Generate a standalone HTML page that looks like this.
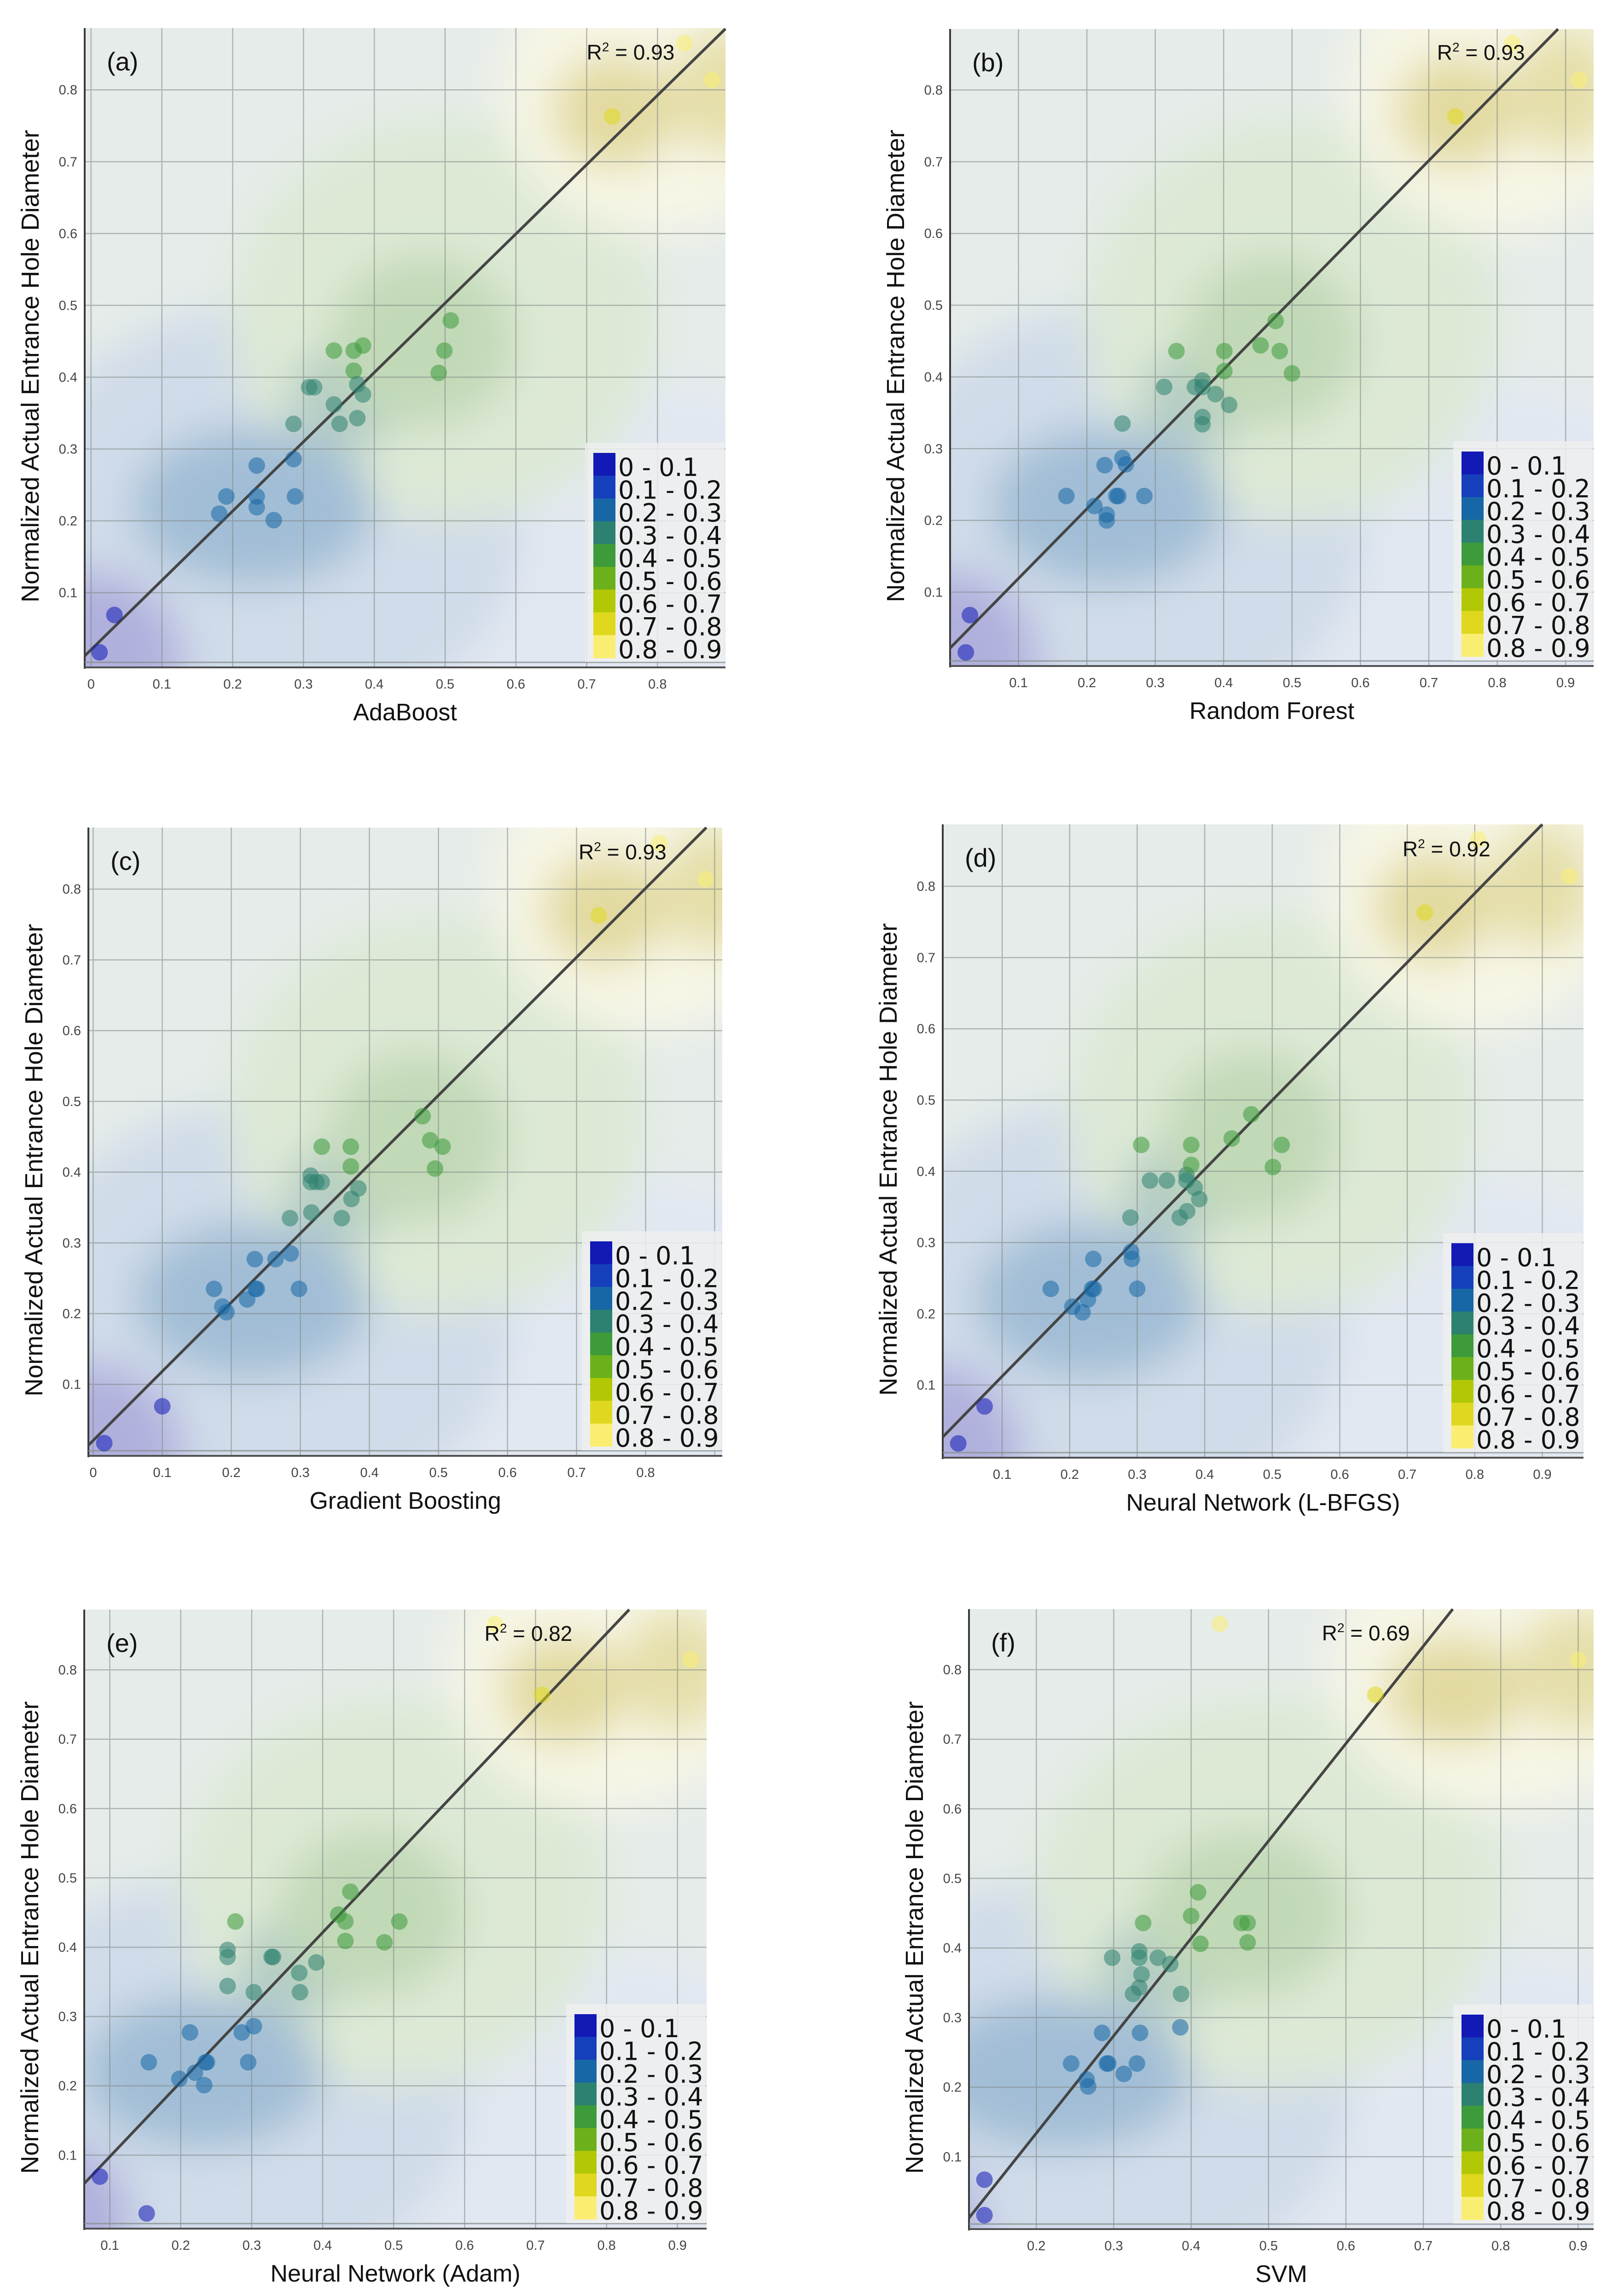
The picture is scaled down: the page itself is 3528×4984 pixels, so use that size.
<!DOCTYPE html>
<html><head><meta charset="utf-8">
<style>
html,body{margin:0;padding:0;background:#fff;}
svg{display:block;font-family:"Liberation Sans",Arial,sans-serif;}
</style></head>
<body>
<svg id="fig" xmlns="http://www.w3.org/2000/svg" width="3528" height="4984" viewBox="0 0 3528 4984">
<defs>
<filter id="blur" x="-50%" y="-50%" width="200%" height="200%"><feGaussianBlur stdDeviation="45"/></filter>
</defs>
</svg>
<script>
// ---------- data ----------
const predA=[0.012,0.033,0.181,0.191,0.234,0.234,0.234,0.258,0.286,0.288,0.286,0.308,0.315,0.343,0.351,0.343,0.371,0.384,0.371,0.376,0.384,0.376,0.491,0.499,0.508,0.736,0.838,0.877];
const actA=[0.017,0.069,0.210,0.234,0.277,0.234,0.219,0.201,0.286,0.234,0.335,0.386,0.386,0.362,0.335,0.437,0.437,0.444,0.409,0.390,0.376,0.343,0.406,0.437,0.479,0.763,0.865,0.814];
const predB=[0.023,0.029,0.170,0.211,0.226,0.229,0.229,0.243,0.246,0.252,0.257,0.252,0.284,0.313,0.331,0.358,0.369,0.369,0.388,0.369,0.369,0.408,0.401,0.401,0.454,0.476,0.482,0.5,0.739,0.822,0.920];
const actB=[0.016,0.068,0.234,0.220,0.277,0.208,0.2,0.234,0.234,0.287,0.278,0.335,0.234,0.386,0.436,0.386,0.395,0.386,0.376,0.344,0.334,0.361,0.436,0.408,0.444,0.478,0.436,0.405,0.763,0.865,0.814];
const predC=[0.016,0.1,0.175,0.187,0.193,0.223,0.234,0.235,0.237,0.264,0.286,0.298,0.285,0.316,0.315,0.315,0.323,0.331,0.331,0.36,0.374,0.384,0.373,0.373,0.477,0.488,0.506,0.495,0.732,0.820,0.887];
const actC=[0.017,0.069,0.235,0.210,0.202,0.220,0.277,0.235,0.235,0.277,0.285,0.235,0.335,0.343,0.395,0.386,0.386,0.386,0.436,0.335,0.362,0.377,0.436,0.408,0.479,0.445,0.436,0.405,0.763,0.865,0.814];
const predD=[0.035,0.074,0.172,0.204,0.219,0.227,0.233,0.236,0.235,0.291,0.292,0.300,0.290,0.306,0.319,0.344,0.373,0.373,0.385,0.392,0.374,0.363,0.380,0.380,0.440,0.469,0.501,0.514,0.726,0.805,0.940];
const actD=[0.018,0.070,0.235,0.210,0.202,0.220,0.235,0.235,0.277,0.287,0.277,0.235,0.335,0.437,0.387,0.387,0.395,0.387,0.377,0.361,0.344,0.335,0.437,0.409,0.446,0.480,0.406,0.437,0.763,0.866,0.814];
const predE=[0.086,0.152,0.155,0.198,0.213,0.220,0.233,0.235,0.237,0.286,0.303,0.295,0.266,0.266,0.266,0.277,0.303,0.328,0.330,0.367,0.368,0.391,0.422,0.432,0.439,0.432,0.487,0.508,0.709,0.643,0.919];
const actE=[0.069,0.016,0.234,0.210,0.277,0.219,0.201,0.234,0.234,0.277,0.286,0.234,0.396,0.386,0.344,0.437,0.335,0.386,0.386,0.363,0.335,0.378,0.447,0.437,0.480,0.409,0.407,0.437,0.764,0.866,0.815];
const predF=[0.133,0.133,0.245,0.265,0.267,0.285,0.291,0.293,0.313,0.330,0.334,0.386,0.298,0.325,0.333,0.336,0.333,0.333,0.338,0.357,0.373,0.387,0.409,0.400,0.412,0.465,0.473,0.473,0.638,0.437,0.900];
const actF=[0.067,0.016,0.234,0.211,0.201,0.278,0.234,0.234,0.219,0.234,0.278,0.286,0.386,0.334,0.343,0.362,0.386,0.395,0.436,0.386,0.377,0.334,0.480,0.446,0.406,0.436,0.436,0.408,0.764,0.866,0.814];
const r2Values=["0.93","0.93","0.93","0.92","0.82","0.69"];
const modelNames=["AdaBoost","Random Forest","Gradient Boosting","Neural Network (L-BFGS)","Neural Network (Adam)","SVM"];
const panelLetters=["(a)","(b)","(c)","(d)","(e)","(f)"];
const xTicksA=[0,0.1,0.2,0.3,0.4,0.5,0.6,0.7,0.8];
const xTicksB=[0.1,0.2,0.3,0.4,0.5,0.6,0.7,0.8,0.9];
const xTicksF=[0.2,0.3,0.4,0.5,0.6,0.7,0.8,0.9];
const yTicks=[0.1,0.2,0.3,0.4,0.5,0.6,0.7,0.8];
const legendLabels=["0 - 0.1","0.1 - 0.2","0.2 - 0.3","0.3 - 0.4","0.4 - 0.5","0.5 - 0.6","0.6 - 0.7","0.7 - 0.8","0.8 - 0.9"];
const legendColors=["#1219b5","#1640bb","#1767a6","#2d8170","#3d9b3a","#6cb11b","#b2c805","#e0d81e","#faee72"];
const fitA=[-0.009,0.012,0.896,0.885];
const fitB=[0.0,0.022,0.889,0.885];
const fitC=[-0.007,0.014,0.888,0.887];
const fitD=[0.012,0.027,0.900,0.887];
const fitE=[0.064,0.059,0.832,0.887];
const fitF=[0.113,0.012,0.738,0.887];

// ---------- layout ----------
const panels=[
 {px:[184,1576,61,1450],dom:[-0.009,0.896,-0.004,0.886],xs:predA,ys:actA,xt:xTicksA,fit:fitA,r2x:0.70},
 {px:[2064,3462,63,1447],dom:[0.0,0.941,-0.003,0.885],xs:predB,ys:actB,xt:xTicksB,fit:fitB,r2x:0.712},
 {px:[192,1569,1798,3163],dom:[-0.007,0.911,-0.001,0.887],xs:predC,ys:actC,xt:xTicksA,fit:fitC,r2x:0.703},
 {px:[2048,3440,1791,3167],dom:[0.012,0.961,-0.002,0.887],xs:predD,ys:actD,xt:xTicksB,fit:fitD,r2x:0.693},
 {px:[183,1535,3497,4842],dom:[0.064,0.941,-0.006,0.887],xs:predE,ys:actE,xt:xTicksB,fit:fitE,r2x:0.628},
 {px:[2105,3462,3496,4843],dom:[0.113,0.920,-0.004,0.887],xs:predF,ys:actF,xt:xTicksF,fit:fitF,r2x:0.569}
];
const blobs=[
 [0.75,0.1,0.45,0.3,"#e2e8f1",1],
 [0.25,0.2,0.36,0.3,"#d0dce9",1],
 [0.5,0.48,0.3,0.28,"#dde9d5",1],
 [0.8,0.8,0.22,0.2,"#f7f6e6",1],
 [0.23,0.22,0.17,0.11,"#9fbcd5",0.95],
 [0.0,0.0,0.13,0.13,"#b0b0dd",1],
 [0.36,0.37,0.08,0.07,"#b3ccc4",1],
 [0.47,0.45,0.13,0.12,"#c2d9b8",1],
 [0.74,0.77,0.09,0.08,"#e2daa0",1],
 [0.9,0.8,0.08,0.09,"#e5dfaa",1]
];

const NS="http://www.w3.org/2000/svg";
const svg=document.getElementById("fig");
function mk(tag,attrs,parent){const e=document.createElementNS(NS,tag);for(const k in attrs)e.setAttribute(k,attrs[k]);(parent||svg).appendChild(e);return e;}
function colorFor(v){let i=Math.min(8,Math.max(0,Math.floor(v*10)));return legendColors[i];}

panels.forEach((p,pi)=>{
  const [L,R,T,B]=p.px,[x0,x1,y0,y1]=p.dom;
  const sx=v=>L+(v-x0)/(x1-x0)*(R-L);
  const sy=v=>B-(v-y0)/(y1-y0)*(B-T);
  const g=mk("g",{});
  
  
  const cid="clip"+pi;
  const cp=mk("clipPath",{id:cid},g);mk("rect",{x:L,y:T,width:R-L,height:B-T},cp);
  const bg=mk("g",{"clip-path":"url(#"+cid+")"},g);
  
  
  mk("rect",{x:L,y:T,width:R-L,height:B-T,fill:"#e6ece9"},bg);
  const bl=mk("g",{filter:"url(#blur)"},bg);
  blobs.forEach(b=>{mk("ellipse",{cx:sx(b[0]),cy:sy(b[1]),rx:b[2]/(x1-x0)*(R-L),ry:b[3]/(y1-y0)*(B-T),fill:b[4],opacity:b[5]},bl);});
  const grid=mk("g",{stroke:"#7d8582","stroke-width":2.5,opacity:0.55},g);
  
  
  p.xt.forEach(t=>{if(t>=x0&&t<=x1)mk("line",{x1:sx(t),x2:sx(t),y1:T,y2:B},grid);});
  if(0.9>=x0&&0.9<=x1&&p.xt.indexOf(0.9)<0)mk("line",{x1:sx(0.9),x2:sx(0.9),y1:T,y2:B},grid);
  yTicks.forEach(t=>mk("line",{x1:L,x2:R,y1:sy(t),y2:sy(t)},grid));
  const ax=mk("line",{x1:L,x2:L,y1:T,y2:B+3,stroke:"#3a3a3a","stroke-width":4},g);
  
  const bx=mk("line",{x1:L,x2:R,y1:B,y2:B,stroke:"#505050","stroke-width":4},g);
  
  mk("line",{x1:L,x2:R,y1:B-11,y2:B-11,stroke:"#8a8f90","stroke-width":3,opacity:0.8},g);
  p.xt.forEach(t=>{const tx=mk("text",{x:sx(t),y:B+46,"font-size":29,"text-anchor":"middle",fill:"#444"},g);tx.textContent=(t===0?"0":t.toFixed(1));
    });
  yTicks.forEach(t=>{const ty=mk("text",{x:L-16,y:sy(t)+10,"font-size":29,"text-anchor":"end",fill:"#444"},g);ty.textContent=t.toFixed(1);
    });
  const f=p.fit;
  const fl=mk("line",{x1:sx(f[0]),y1:sy(f[1]),x2:sx(f[2]),y2:sy(f[3]),stroke:"#454545","stroke-width":6},g);
  
  const pts=mk("g",{},g);
  
  p.xs.forEach((xv,i)=>{const c=mk("circle",{cx:sx(xv),cy:sy(p.ys[i]),r:18,fill:colorFor(p.ys[i]),"fill-opacity":0.55},pts);
    });
  const lg=mk("g",{},g);
  
  const lx=R-305,ly=B-488;
  mk("rect",{x:lx,y:ly,width:303,height:476,fill:"#efefef","fill-opacity":0.85},lg);
  legendColors.forEach((c,i)=>{
    const sw=mk("rect",{x:lx+18,y:ly+22+i*49.5,width:48,height:50,fill:c},lg);
    
    const lt=mk("text",{x:lx+72,y:ly+22+i*49.5+50,"font-size":54,fill:"#111","font-family":"DejaVu Sans, Liberation Sans, sans-serif"},lg);
    lt.textContent=legendLabels[i];
    
  });
  const r2=mk("text",{x:sx(p.r2x),y:sy(0.842),"font-size":46,fill:"#111"},g);
  
  const t1=mk("tspan",{},r2);t1.textContent="R";
  const t2=mk("tspan",{"font-size":28,dy:-18},r2);t2.textContent="2";
  const t3=mk("tspan",{dy:18},r2);t3.textContent=" = "+r2Values[pi];
  const pl=mk("text",{x:L+48,y:T+92,"font-size":56,fill:"#111"},g);
  pl.textContent=panelLetters[pi];
  
  const xt=mk("text",{x:(L+R)/2,y:B+115,"font-size":52,"text-anchor":"middle",fill:"#111"},g);
  xt.textContent=modelNames[pi];
  
  const yx=L-100,yy=(T+B)/2+40;
  const yt=mk("text",{x:yx,y:yy,"font-size":54,"text-anchor":"middle",fill:"#111",transform:"rotate(-90 "+yx+" "+yy+")"},g);
  yt.textContent="Normalized Actual Entrance Hole Diameter";
  
});
</script>
</body></html>
